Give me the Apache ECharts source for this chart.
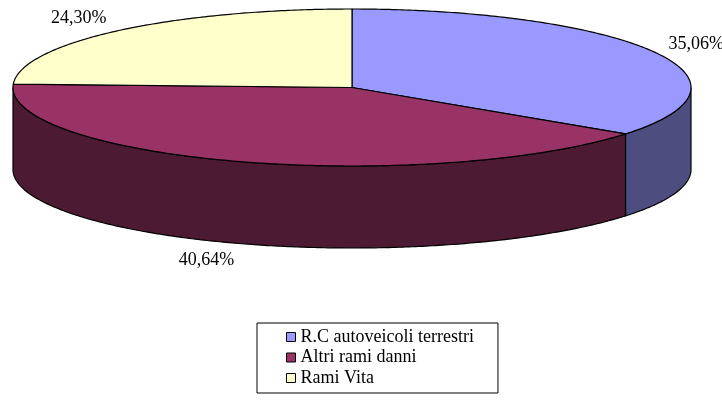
<!DOCTYPE html>
<html>
<head>
<meta charset="utf-8">
<script src="https://cdn.jsdelivr.net/npm/echarts@6/dist/echarts.min.js"></script>
<style>
  html, body { margin: 0; padding: 0; background: #fff; }
  #chart { width: 722px; height: 418px; }
</style>
</head>
<body>
<div id="chart"></div>
<script>
// data
const categories = ['R.C autoveicoli terrestri', 'Altri rami danni', 'Rami Vita'];
const values = [35.06, 40.64, 24.30];
const labels = ['35,06%', '40,64%', '24,30%'];

const topColors = ['#9999FF', '#993366', '#FFFFCC'];
const sideColors = ['#4D4D80', '#4D1A33', '#80806A'];

// layout of the fake 3D pie
const cx = 352, cy = 87.5, rx = 339, ry = 78.5, depth = 82;
const FONT = '"Liberation Serif", "Times New Roman", serif';

const total = values.reduce((a, b) => a + b, 0);
const startAngles = [];
let acc = 0;
values.forEach(v => { startAngles.push(acc / total * 2 * Math.PI); acc += v; });

// angle t clockwise from 12 o'clock
const pt = (t, dy) => [cx + rx * Math.sin(t), cy - ry * Math.cos(t) + (dy || 0)];

function arcPoints(t1, t2, dy) {
  const n = Math.max(2, Math.ceil((t2 - t1) / 0.01));
  const out = [];
  for (let i = 0; i <= n; i++) out.push(pt(t1 + (t2 - t1) * i / n, dy));
  return out;
}

function makeSlice(i) {
  return function (params, api) {
    const t1 = startAngles[i];
    const t2 = t1 + values[i] / total * 2 * Math.PI;
    const children = [];

    // visible front wall: part of the slice between 90deg and 270deg
    const a = Math.max(t1, Math.PI / 2), b = Math.min(t2, Math.PI * 1.5);
    if (b > a) {
      const topArc = arcPoints(a, b, 0);
      const botArc = arcPoints(a, b, depth).reverse();
      children.push({
        type: 'polygon',
        shape: { points: topArc.concat(botArc) },
        style: { fill: sideColors[i], stroke: '#000', lineWidth: 1.2 },
        z2: 1
      });
    }

    // top face
    children.push({
      type: 'polygon',
      shape: { points: [[cx, cy]].concat(arcPoints(t1, t2, 0)) },
      style: { fill: topColors[i], stroke: '#000', lineWidth: 1.2, lineJoin: 'round' },
      z2: 2
    });

    // percentage label outside the slice
    const tm = (t1 + t2) / 2;
    const s = Math.sin(tm), c = Math.cos(tm);
    const lx = cx + (rx + 16) * s;
    const ly = cy - (ry + 18) * c + (c < 0 ? depth : 0);
    children.push({
      type: 'text',
      style: {
        x: lx, y: ly, text: labels[i],
        fill: '#000', font: '18px ' + FONT,
        align: s >= 0 ? 'left' : 'right', verticalAlign: 'middle'
      },
      z2: 3
    });

    return { type: 'group', children: children };
  };
}

const chart = echarts.init(document.getElementById('chart'), null, { renderer: 'canvas' });

chart.setOption({
  animation: false,
  legend: {
    orient: 'vertical',
    left: 257,
    top: 323,
    data: categories,
    icon: 'rect',
    itemWidth: 9,
    itemHeight: 9,
    itemGap: 2.5,
    padding: [5, 24, 6, 29],
    borderColor: '#000',
    borderWidth: 1,
    borderRadius: 0,
    itemStyle: { borderColor: '#000', borderWidth: 1 },
    textStyle: { fontFamily: FONT, fontSize: 18, color: '#000', lineHeight: 14 },
    selectedMode: false
  },
  series: categories.map((name, i) => ({
    type: 'custom',
    name: name,
    coordinateSystem: 'none',
    data: [values[i]],
    itemStyle: { color: topColors[i] },
    renderItem: makeSlice(i)
  }))
});
</script>
</body>
</html>
